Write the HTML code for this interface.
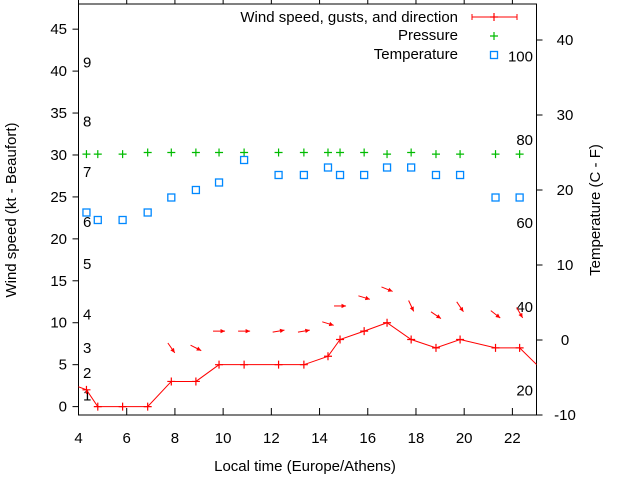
<!DOCTYPE html>
<html><head><meta charset="utf-8"><style>
body{margin:0;background:#fff}
svg{display:block;font-family:"Liberation Sans",sans-serif;font-size:15px}
</style></head><body>
<svg id="chart" width="640" height="480" xmlns="http://www.w3.org/2000/svg">
<defs><clipPath id="clip"><rect x="78.5" y="4" width="458" height="411"/></clipPath></defs>
<g id="axes"></g>
<g id="series" clip-path="url(#clip)"></g>
<g id="legend"></g>
</svg>
<script>
const times=[4.33,4.8,5.83,6.87,7.85,8.87,9.83,10.87,12.3,13.35,14.35,14.85,15.85,16.8,17.8,18.83,19.83,21.3,22.3];
const windKt=[2,0,0,0,3,3,5,5,5,5,6,8,9,10,8,7,8,7,7];
const gustKt=[null,null,null,null,7,7,9,9,9,9,9.9,12,13,14,12,10.9,11.9,11,11.2];
const windBearing=[null,null,null,null,145,117,90,90,80,80,107,90,107,112,155,124,146,128,150];
const pressure=[30.1,30.1,30.1,30.3,30.3,30.3,30.3,30.3,30.3,30.3,30.3,30.3,30.3,30.1,30.3,30.1,30.1,30.1,30.1];
const tempC=[17,16,16,17,19,20,21,24,22,22,23,22,22,23,23,22,22,19,19];
const xTicks=[4,6,8,10,12,14,16,18,20,22];
const yTicks=[0,5,10,15,20,25,30,35,40,45];
const y2Ticks=[-10,0,10,20,30,40];
const beaufortLabels=[["1",1.3],["2",4],["3",7],["4",11],["5",17],["6",22],["7",28],["8",34],["9",41]];
const fahrLabels=[["20",-6.7],["40",4.4],["60",15.6],["80",26.7],["100",37.8]];
const xMin=4,xMax=23,yMin=-1,yMax=48,y2Min=-10,y2Max=44.8;
const L=78.5,R=536.5,T=4,B=415;
const X=v=>L+(v-xMin)/(xMax-xMin)*(R-L);
const Y=v=>B-(v-yMin)/(yMax-yMin)*(B-T);
const Y2=v=>B-(v-y2Min)/(y2Max-y2Min)*(B-T);
const NS="http://www.w3.org/2000/svg";
function mk(tag,attrs,parent,text){const e=document.createElementNS(NS,tag);for(const k in attrs)e.setAttribute(k,attrs[k]);if(text!==undefined)e.textContent=text;parent.appendChild(e);return e;}
const ax=document.getElementById('axes'),se=document.getElementById('series'),lg=document.getElementById('legend');
let f=mk('rect',{x:L,y:T,width:R-L,height:B-T,fill:'none',stroke:'#000','stroke-width':1},ax);


xTicks.forEach(v=>{const x=X(v);
 let t=mk('line',{x1:x,x2:x,y1:B,y2:B-7,stroke:'#000'},ax);
 mk('line',{x1:x,x2:x,y1:T,y2:T-6,stroke:'#000'},ax);
 let l=mk('text',{x:x,y:B+28,'text-anchor':'middle',fill:'#000'},ax,String(v));});
yTicks.forEach(v=>{const y=Y(v);
 let t=mk('line',{x1:L,x2:L-6,y1:y,y2:y,stroke:'#000'},ax);
 let l=mk('text',{x:67,y:y+5,'text-anchor':'end',fill:'#000'},ax,String(v));});
y2Ticks.forEach(v=>{const y=Y2(v);
 let t=mk('line',{x1:R,x2:R+6,y1:y,y2:y,stroke:'#000'},ax);
 let l=mk('text',{x:565,y:y+5,'text-anchor':'middle',fill:'#000'},ax,String(v));});
beaufortLabels.forEach(b=>{let l=mk('text',{x:83,y:Y(b[1])+5,fill:'#000'},ax,b[0]);});
fahrLabels.forEach(b=>{let l=mk('text',{x:533,y:Y2(b[1])+5,'text-anchor':'end',fill:'#000'},ax,b[0]);});
let xt=mk('text',{x:305,y:471,'text-anchor':'middle',fill:'#000'},ax,'Local time (Europe/Athens)');
let yt=mk('text',{x:0,y:0,transform:'translate(16,210) rotate(-90)','text-anchor':'middle',fill:'#000'},ax,'Wind speed (kt - Beaufort)');
let y2t=mk('text',{x:0,y:0,transform:'translate(600,210) rotate(-90)','text-anchor':'middle',fill:'#000'},ax,'Temperature (C - F)');
let pts=[[3.5,2.9]].concat(times.map((t,i)=>[t,windKt[i]])).concat([[23.4,3.9]]);
let wl=mk('polyline',{points:pts.map(p=>X(p[0])+','+Y(p[1])).join(' '),fill:'none',stroke:'#f00','stroke-width':1},se);

function plus(x,y,c,parent,name){let g=mk('path',{d:`M${x-4} ${y}H${x+4}M${x} ${y-4}V${y+4}`,stroke:c,'stroke-width':1.2,fill:'none'},parent);}
times.forEach((t,i)=>plus(X(t),Y(windKt[i]),'#f00',se,'wind-point'));
times.forEach((t,i)=>{if(gustKt[i]==null)return;const cx=X(t),cy=Y(gustKt[i]);const a=(windBearing[i]-90)*Math.PI/180;const dx=Math.cos(a)*6,dy=Math.sin(a)*6;
 const x2=cx+dx,y2=cy+dy;
 let g=mk('g',{},se);
 mk('line',{x1:cx-dx,y1:cy-dy,x2:x2,y2:y2,stroke:'#f00','stroke-width':1},g);
 const h=5,w=0.45;const hx1=x2-h*Math.cos(a-w),hy1=y2-h*Math.sin(a-w),hx2=x2-h*Math.cos(a+w),hy2=y2-h*Math.sin(a+w);
 mk('polygon',{points:`${x2},${y2} ${hx1},${hy1} ${hx2},${hy2}`,fill:'#f00'},g);});
times.forEach((t,i)=>plus(X(t),Y(pressure[i]),'#0b0',se,'pressure-point'));
times.forEach((t,i)=>{let r=mk('rect',{x:X(t)-3.5,y:Y2(tempC[i])-3.5,width:7,height:7,fill:'none',stroke:'#08f','stroke-width':1.3},se);});
const lx=458;
[['Wind speed, gusts, and direction',22],['Pressure',40],['Temperature',59]].forEach(e=>{let l=mk('text',{x:lx,y:e[1],'text-anchor':'end',fill:'#000'},lg,e[0]);});
mk('path',{d:'M472 17H517M472 14V20M517 14V20',stroke:'#f00',fill:'none'},lg);
plus(494,17,'#f00',lg,'legend-wind-marker');
plus(494,36,'#0b0',lg,'legend-pressure-marker');
let ls=mk('rect',{x:490.5,y:51.5,width:7,height:7,fill:'none',stroke:'#08f','stroke-width':1.3},lg);
</script>
</body></html>
